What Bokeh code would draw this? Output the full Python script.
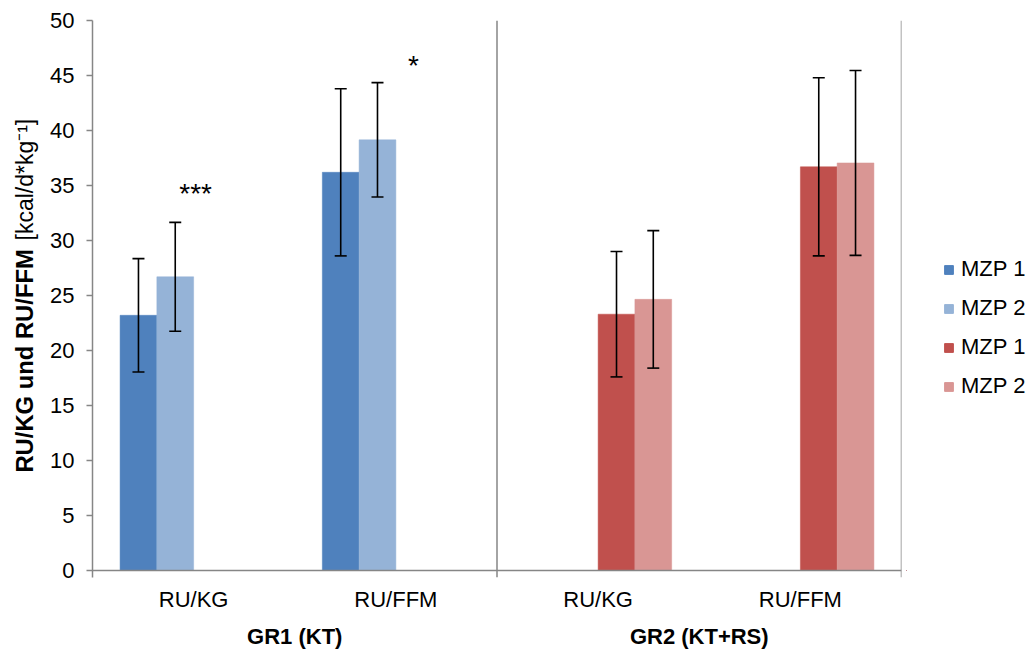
import math
from bokeh.plotting import figure
from bokeh.layouts import row
from bokeh.models import (FactorRange, Range1d, FixedTicker, Span, Whisker, ColumnDataSource,
                          Legend, LegendItem, Label, TeeHead)
from bokeh.transform import dodge
from bokeh.core.properties import value
from bokeh.embed import file_html
from bokeh.resources import INLINE

# ---------------- data ----------------
groups = ["GR1 (KT)", "GR2 (KT+RS)"]
measures = ["RU/KG", "RU/FFM"]
series_names = ["MZP 1", "MZP 2", "MZP 1", "MZP 2"]
colors = ["#4F81BD", "#95B3D7", "#C0504D", "#D99694"]

gr1_mzp1 = [23.2, 36.2]
gr1_mzp1_err = [5.15, 7.6]
gr1_mzp2 = [26.7, 39.15]
gr1_mzp2_err = [4.95, 5.2]
gr2_mzp1 = [23.3, 36.7]
gr2_mzp1_err = [5.7, 8.1]
gr2_mzp2 = [24.65, 37.05]
gr2_mzp2_err = [6.25, 8.4]

sig_labels = ["***", "*"]
sig_y = [34.3, 45.95]

y_ticks = [0, 5, 10, 15, 20, 25, 30, 35, 40, 45, 50]
y_title_bold = "RU/KG und RU/FFM"
y_title_unit = "[kcal/d*kg\u207b\u00b9]"

# ---------------- figure ----------------
FONT = "Liberation Sans"
GRAY = "#868686"
LEFT_W = 40
RIGHT_W = 126
factors = [(g, m) for g in groups for m in measures]

x_range = FactorRange(*factors, factor_padding=0, group_padding=0, subgroup_padding=0, range_padding=0)
y_range = Range1d(-0.636, 50)

p = figure(width=1032 - LEFT_W - RIGHT_W, height=652, x_range=x_range, y_range=y_range,
           output_backend="svg", toolbar_location=None,
           min_border_left=92 - LEFT_W, min_border_right=5, min_border_top=20, min_border_bottom=75)
p.outline_line_color = None
p.xgrid.grid_line_color = None
p.ygrid.grid_line_color = None
p.background_fill_color = "white"
p.border_fill_color = "white"

slot = 1 / 5.5
offsets = [-1.5 * slot, -0.5 * slot, 0.5 * slot, 1.5 * slot]

series = [
    (groups[0], gr1_mzp1, gr1_mzp1_err),
    (groups[0], gr1_mzp2, gr1_mzp2_err),
    (groups[1], gr2_mzp1, gr2_mzp1_err),
    (groups[1], gr2_mzp2, gr2_mzp2_err),
]

for i, (g, vals, errs) in enumerate(series):
    src = ColumnDataSource(dict(
        cat=[(g, m) for m in measures],
        val=vals,
        upper=[v + e for v, e in zip(vals, errs)],
        lower=[v - e for v, e in zip(vals, errs)],
    ))
    p.vbar(x=dodge("cat", offsets[i], range=p.x_range), top="val", width=slot,
           source=src, fill_color=colors[i], line_color=colors[i], line_width=0.5)
    w = Whisker(base=dodge("cat", offsets[i], range=p.x_range), upper="upper", lower="lower",
                source=src, line_color="black", line_width=1.6, level="annotation",
                upper_head=TeeHead(size=12, line_color="black", line_width=1.6),
                lower_head=TeeHead(size=12, line_color="black", line_width=1.6))
    p.add_layout(w)

# significance marks
sig_offsets = [0.01, 0.087]
for k in range(2):
    s = ColumnDataSource(dict(cat=[(groups[0], measures[k])], y=[sig_y[k]], t=[sig_labels[k]]))
    p.text(x=dodge("cat", sig_offsets[k], range=p.x_range), y="y", text="t", source=s,
           text_font=value(FONT), text_font_size="28px", text_align="center",
           text_baseline="alphabetic", text_color="black")

# axis line at 0 and group separators
p.add_layout(Span(location=0, dimension="width", line_color=GRAY, line_width=1.5))
p.add_layout(Span(location=2, dimension="height", line_color=GRAY, line_width=1.5))
p.add_layout(Span(location=4, dimension="height", line_color=GRAY, line_width=1.5))

# y axis
ya = p.yaxis[0]
ya.ticker = FixedTicker(ticks=y_ticks)
ya.axis_line_color = GRAY
ya.axis_line_width = 1.5
ya.major_tick_line_color = GRAY
ya.major_tick_line_width = 1.5
ya.major_tick_out = 6
ya.major_tick_in = 0
ya.minor_tick_line_color = None
ya.major_label_text_font = FONT
ya.major_label_text_font_size = "22px"
ya.major_label_text_color = "black"
ya.major_label_standoff = 12

# x axis
xa = p.xaxis[0]
xa.axis_line_color = None
xa.major_tick_line_color = None
xa.major_tick_out = 0
xa.major_tick_in = 0
xa.minor_tick_line_color = None
xa.separator_line_color = None
xa.major_label_text_font = FONT
xa.major_label_text_font_size = "22px"
xa.major_label_text_color = "black"
xa.major_label_standoff = 9
xa.group_text_font = FONT
xa.group_text_font_size = "22px"
xa.group_text_font_style = "bold"
xa.group_text_color = "black"

# left figure holding the y-axis title (bold + regular parts)
side = figure(width=LEFT_W, height=652, x_range=Range1d(0, LEFT_W), y_range=y_range,
              output_backend="svg", toolbar_location=None,
              x_axis_type=None, y_axis_type=None,
              min_border_left=0, min_border_right=0, min_border_top=20, min_border_bottom=75)
side.outline_line_color = None
side.xgrid.grid_line_color = None
side.ygrid.grid_line_color = None
side.add_layout(Label(x=24, y=8.9, text=y_title_bold, angle=math.pi / 2,
                      text_font=FONT, text_font_size="23.8px", text_font_style="bold",
                      text_align="left", text_baseline="middle", text_color="black"))
side.add_layout(Label(x=24, y=30.0, text=y_title_unit, angle=math.pi / 2,
                      text_font=FONT, text_font_size="23px",
                      text_align="left", text_baseline="middle", text_color="black"))

# right figure holding the legend (proxy renderers lie outside the visible range)
leg = figure(width=RIGHT_W, height=652, x_range=Range1d(0, 1), y_range=y_range,
             output_backend="svg", toolbar_location=None,
             x_axis_type=None, y_axis_type=None,
             min_border_left=0, min_border_right=0, min_border_top=20, min_border_bottom=75)
leg.outline_line_color = None
leg.xgrid.grid_line_color = None
leg.ygrid.grid_line_color = None
leg_renderers = [leg.vbar(x=[-5], top=[0], width=0.1, fill_color=c, line_color=c) for c in colors]
items = [LegendItem(label=series_names[i], renderers=[leg_renderers[i]]) for i in range(4)]
legend = Legend(items=items, location=(37, 178), orientation="vertical",
                glyph_width=11, glyph_height=11, label_standoff=7, spacing=13,
                label_height=24, padding=0, margin=0,
                border_line_color=None, background_fill_alpha=0,
                label_text_font=FONT, label_text_font_size="22px", label_text_color="black")
leg.add_layout(legend, "center")

layout = row(side, p, leg, spacing=0)
open("out.html", "w").write(file_html(layout, INLINE))
